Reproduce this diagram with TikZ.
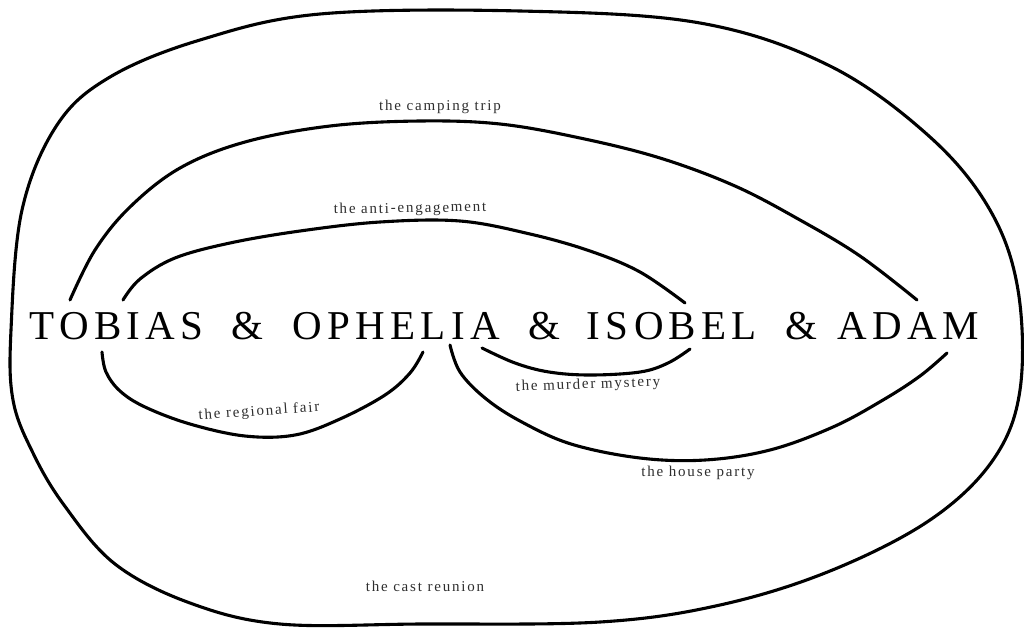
\documentclass[tikz,border=0pt]{standalone}
\usepackage{fontspec}
\setmainfont{Liberation Serif}
\newfontfamily\castfont[LetterSpace=13]{Liberation Serif}
\newfontfamily\eventfont[LetterSpace=12]{Liberation Serif}
\usetikzlibrary{calc}
\definecolor{inkgray}{HTML}{2E2E2E}

\begin{document}
\begin{tikzpicture}[x=1pt,y=-1pt,
    castname/.style={anchor=base, inner sep=0pt, font=\castfont\fontsize{41}{41}\selectfont},
    eventlabel/.style={inner sep=0pt, text=inkgray, font=\eventfont\fontsize{15}{15}\selectfont},
    scribble/.style={line width=3.1pt, line cap=round, line join=round}]
    \useasboundingbox (0,0) rectangle (1024,627);
    % The four names
    \node[castname] (tobias)  at (116.5,339) {TOBIAS};
    \node[castname] (amp1)    at (247.5,339) {\&};
    \node[castname] (ophelia) at (396,339)   {OPHELIA};
    \node[castname] (amp2)    at (544,339)   {\&};
    \node[castname] (isobel)  at (672,339)   {ISOBEL};
    \node[castname] (amp3)    at (801,339)   {\&};
    \node[castname] (adam)    at (908,339)   {ADAM};
    % Ends of the strokes
    \coordinate (camp-a) at (70,300);   \coordinate (camp-b) at (917,300);
    \coordinate (anti-a) at (123,300);  \coordinate (anti-b) at (685,303);
    \coordinate (fair-a) at (102,352);  \coordinate (fair-b) at (423,352);
    \coordinate (murd-a) at (482,348);  \coordinate (murd-b) at (690,349);
    \coordinate (house-a) at (450,345); \coordinate (house-b) at (947,353);
    % The cast reunion (all around)
    \draw[scribble] plot[smooth cycle, tension=0.6] coordinates {
      (11,330) (22,210) (57,125) (110,77) (200,40) (320,14) (520,11) (700,23)
      (830,66) (930,137) (990,210) (1018,290) (1020,390) (993,460) (930,520)
      (830,571) (720,605) (600,622) (420,624) (280,624) (190,603) (115,564)
      (64,505) (33,453) (13,400)};
    % Tobias -- Adam
    \draw[scribble] plot[smooth, tension=0.6] coordinates {
      (camp-a) (95,250) (130,207) (180,168) (245,142) (330,126) (420,121)
      (500,124) (580,138) (660,158) (735,186) (800,220) (860,256) (camp-b)};
    % Tobias -- Isobel
    \draw[scribble] plot[smooth, tension=0.6] coordinates {
      (anti-a) (140,279) (175,258) (230,243) (300,231) (380,222) (460,221)
      (530,234) (590,251) (640,272) (anti-b)};
    % Tobias -- Ophelia
    \draw[scribble] plot[smooth, tension=0.6] coordinates {
      (fair-a) (106,372) (120,391) (145,407) (190,424) (245,436) (295,435)
      (340,419) (385,395) (410,373) (fair-b)};
    % Ophelia -- Isobel
    \draw[scribble] plot[smooth, tension=0.6] coordinates {
      (murd-a) (515,363) (549,372) (590,375) (640,372) (668,363) (murd-b)};
    % Ophelia -- Adam
    \draw[scribble] plot[smooth, tension=0.6] coordinates {
      (house-a) (460,372) (485,398) (520,421) (571,444) (640,458) (705,460)
      (770,450) (833,427) (883,400) (920,376) (house-b)};
    % Labels
    \node[eventlabel] (camping) at (440,107) {the camping trip};
    \node[eventlabel, rotate=1] (antieng) at (410,209) {the anti-engagement};
    \node[eventlabel, rotate=4] (fair) at (259,412) {the regional fair};
    \node[eventlabel, rotate=2] (murder) at (588,385) {the murder mystery};
    \node[eventlabel] (house) at (698,473) {the house party};
    \node[eventlabel] (reunion) at (425,586) {the cast reunion};
\end{tikzpicture}
\end{document}
